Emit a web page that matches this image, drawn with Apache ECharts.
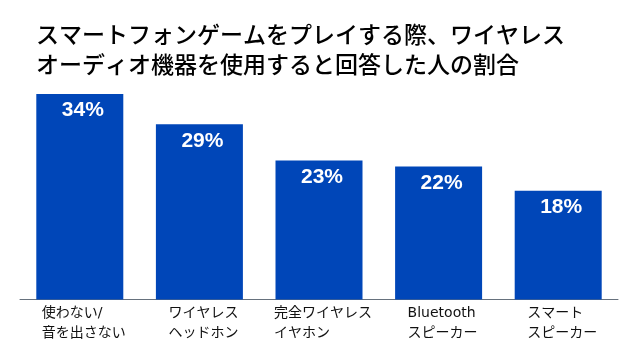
<!DOCTYPE html>
<html>
<head>
<meta charset="utf-8">
<script src="https://cdn.jsdelivr.net/npm/echarts@6/dist/echarts.min.js"></script>
<style>
html,body{margin:0;padding:0;background:#fff;}
#chart{width:640px;height:363px;}
</style>
</head>
<body>
<div id="chart"></div>
<script>
var titleText = 'スマートフォンゲームをプレイする際、ワイヤレス\nオーディオ機器を使用すると回答した人の割合';
var categories = ['使わない/\n音を出さない', 'ワイヤレス\nヘッドホン', '完全ワイヤレス\nイヤホン', 'Bluetooth\nスピーカー', 'スマート\nスピーカー'];
var values = [34, 29, 23, 22, 18];

var chart = echarts.init(document.getElementById('chart'), null, {renderer: 'canvas'});
chart.setOption({
  animation: false,
  backgroundColor: '#ffffff',
  title: {
    text: titleText,
    left: 31,
    top: 14,
    textStyle: {
      fontFamily: '"Noto Sans CJK JP", sans-serif',
      fontSize: 23,
      fontWeight: 500,
      lineHeight: 30,
      color: '#000000'
    }
  },
  grid: {left: 20, right: 22, top: 94, bottom: 63.5, containLabel: false},
  xAxis: {
    type: 'category',
    data: categories,
    axisTick: {show: false},
    axisLine: {show: true, lineStyle: {color: '#66717d', width: 1}},
    axisLabel: {
      interval: 0,
      margin: 4,
      padding: [0, 0, 0, 8],
      formatter: function (v) {
        return v.split('\n').map(function (l) { return '{a|' + l + '}'; }).join('\n');
      },
      rich: {
        a: {
          align: 'left',
          fontSize: 14,
          lineHeight: 20,
          color: '#111111',
          fontFamily: '"DejaVu Sans", "Noto Sans CJK JP", sans-serif'
        }
      }
    }
  },
  yAxis: {
    type: 'value',
    min: 0,
    max: 34,
    show: false,
    splitLine: {show: false}
  },
  series: [{
    type: 'bar',
    data: values,
    barWidth: 87,
    itemStyle: {color: '#0046B8'},
    label: {
      show: true,
      position: 'insideTop',
      distance: 6,
      offset: [3, 0],
      formatter: '{c}%',
      color: '#ffffff',
      fontSize: 21,
      fontWeight: 'bold',
      fontFamily: '"Liberation Sans", Arial, sans-serif'
    }
  }]
});
</script>
</body>
</html>
